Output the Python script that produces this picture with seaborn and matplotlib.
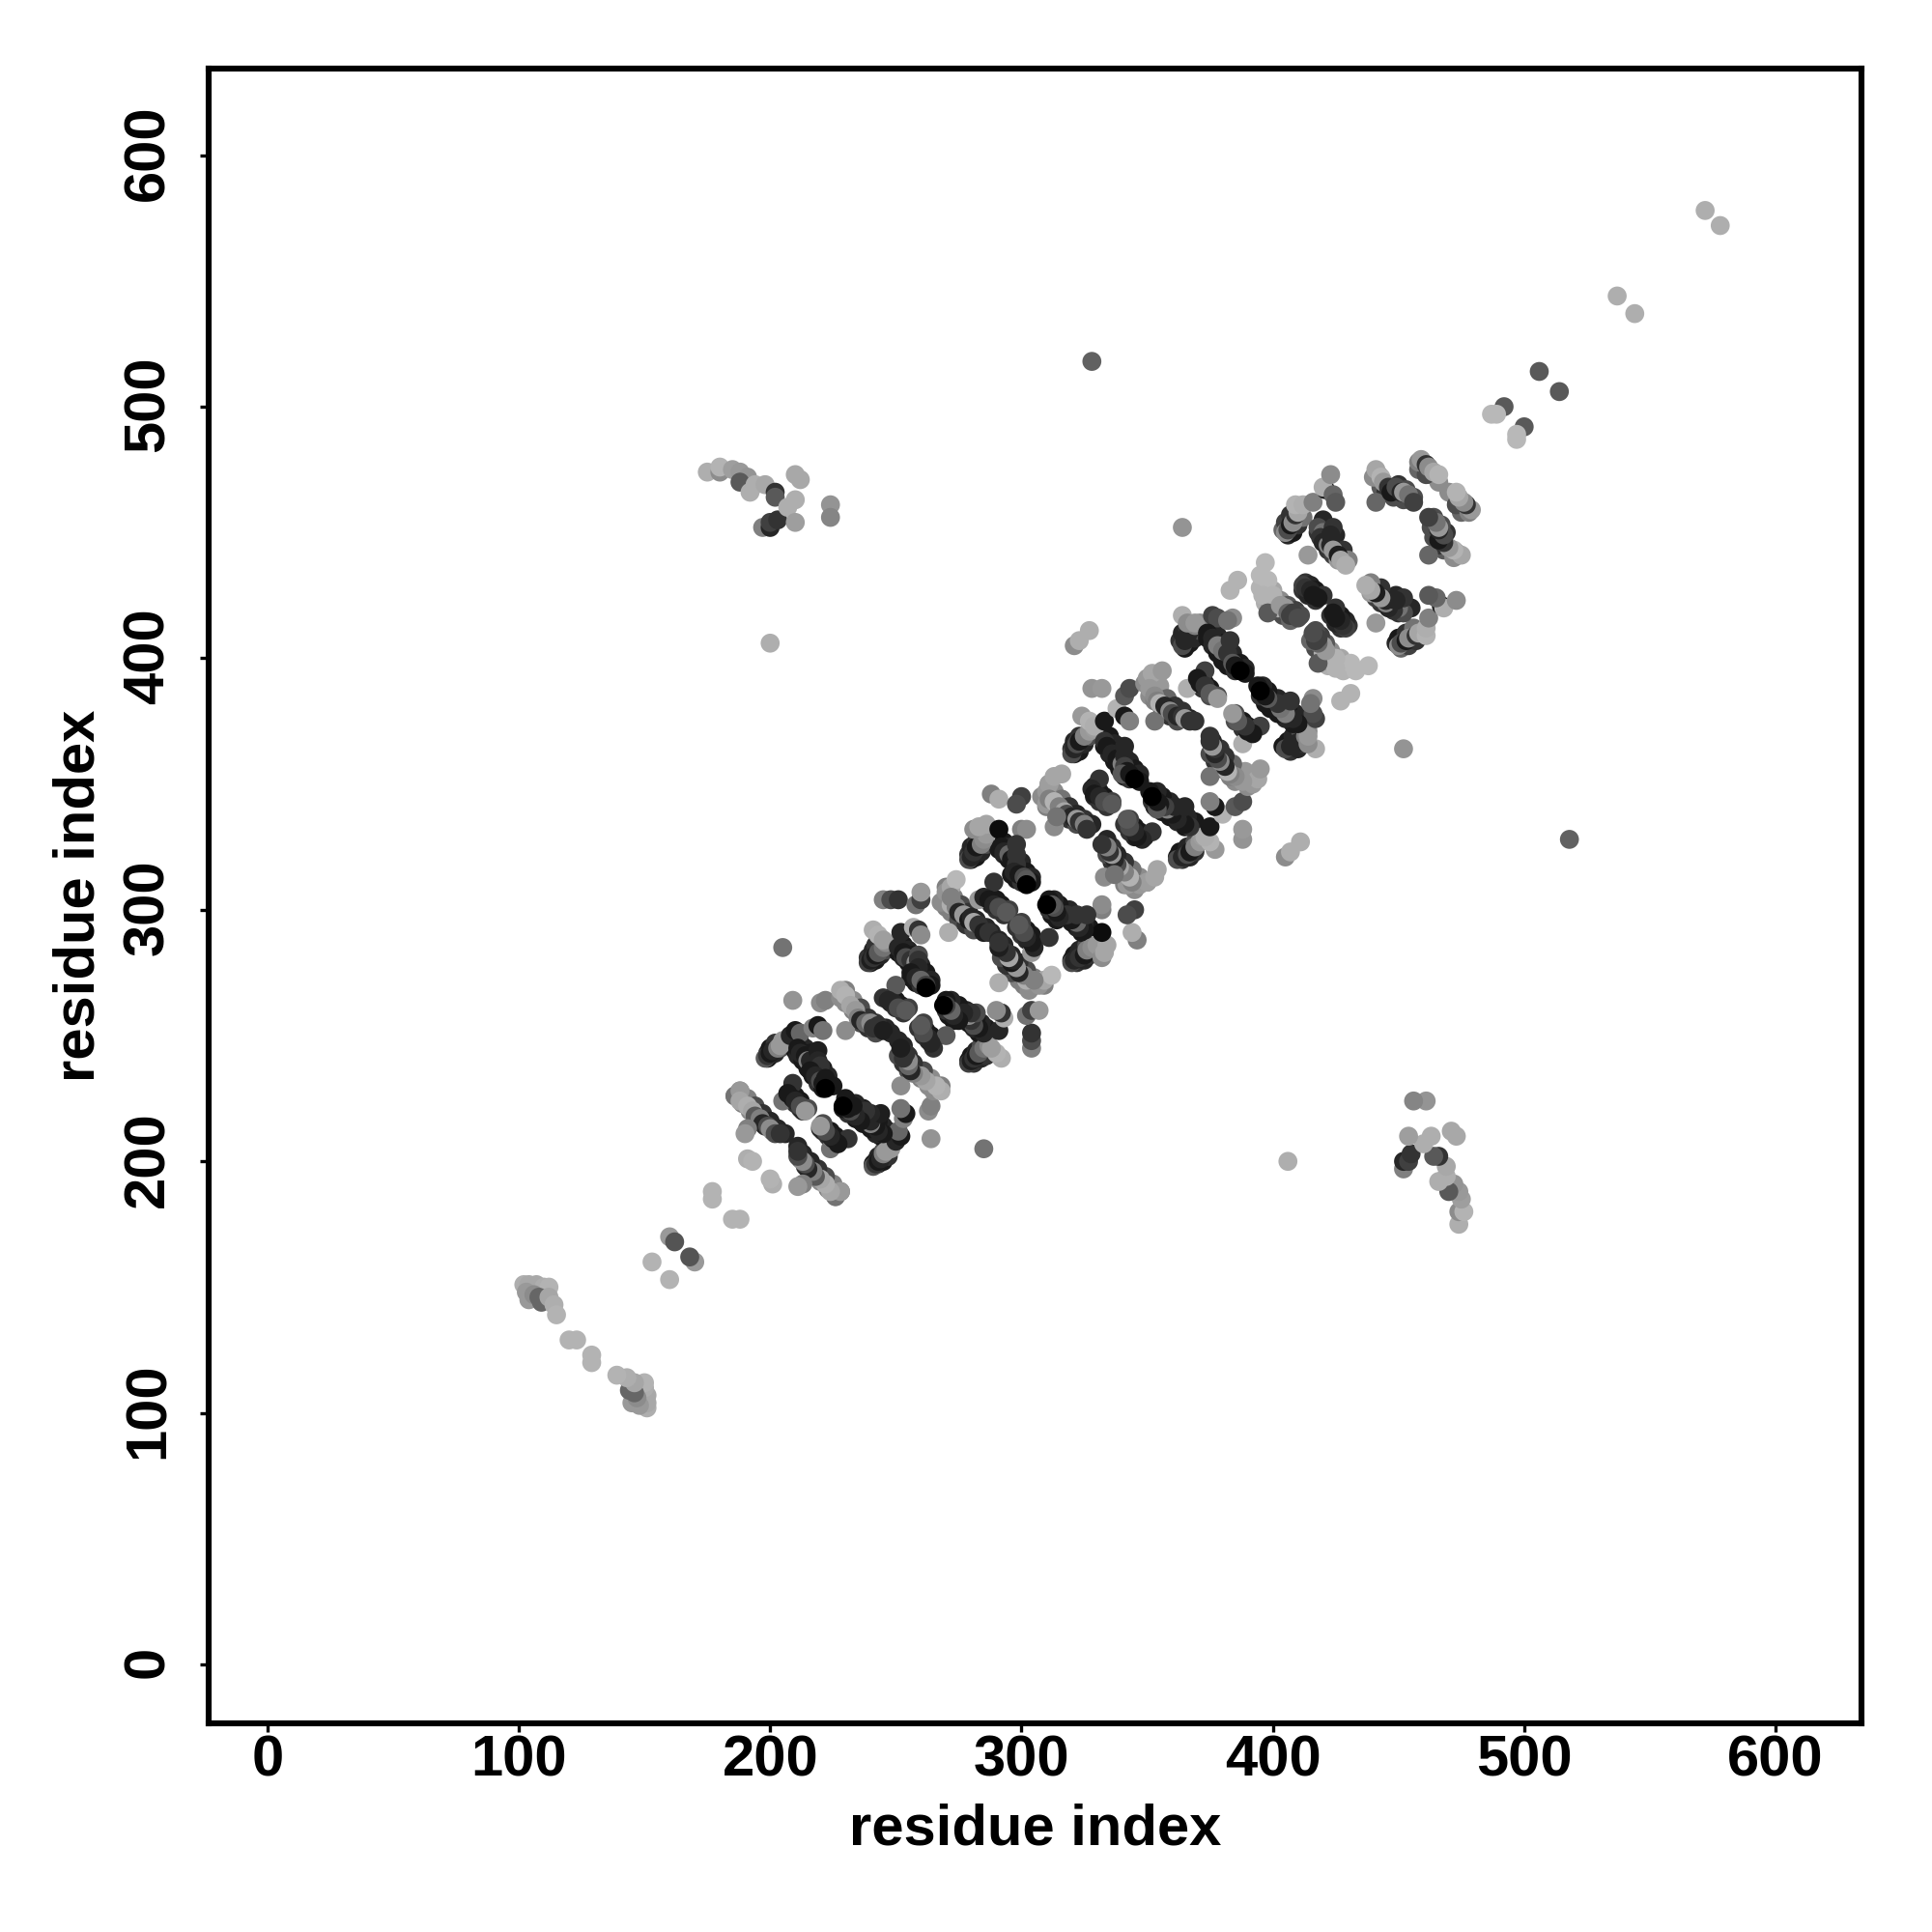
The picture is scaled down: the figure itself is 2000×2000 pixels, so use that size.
import pandas as pd
import matplotlib
matplotlib.use('Agg')
import matplotlib.pyplot as plt
from matplotlib.transforms import ScaledTranslation
import seaborn as sns

# Contact pairs (upper triangle only, the map is symmetric), one stroke per row
# shade: 0 = black, higher = lighter grey
far_i = [572, 537, 506, 492, 487, 489, 328, 200, 364]
far_j = [578, 544, 514, 500, 497, 497, 518, 406, 452]
far_s = [.68, .68, .35, .35, .72, .72, .38, .68, .58]

low_i = [102, 104, 107, 110, 112, 103, 104, 106, 108, 109, 112, 114, 115, 120, 123, 153, 160, 162, 177, 177]
low_j = [151, 151, 151, 150, 150, 148, 145, 147, 146, 144, 146, 143, 139, 129, 129, 160, 170, 168, 185, 188]
low_s = [.68, .66, .66, .68, .70, .60, .60, .55, .40, .40, .65, .68, .70, .70, .70, .70, .60, .33, .70, .70]

cluster_i = [175, 180, 180, 185, 188, 191, 188, 192, 194, 198, 197, 200, 200, 203, 202, 202, 207, 210, 210, 212, 210, 224, 224]
cluster_j = [474, 474, 476, 475, 474, 472, 470, 466, 469, 469, 452, 452, 454, 455, 466, 464, 460, 463, 473, 471, 454, 461, 456]
cluster_s = [.68, .55, .70, .62, .60, .58, .35, .68, .68, .66, .50, .15, .25, .20, .20, .35, .68, .68, .66, .66, .62, .58, .52]

# darker contacts lying under the main strokes, drawn first
under1_i = [188, 191, 194, 197, 200, 203, 206, 186, 189, 192, 195, 198, 201,
            208, 210, 212, 215, 208, 210, 212,
            199, 200, 202, 204, 199, 200, 202,
            212, 214, 216, 218, 221, 223, 225, 210, 211, 213, 215, 217, 219, 221]
under1_j = [228, 225, 222, 219, 216, 213, 211, 226, 223, 220, 217, 214, 212,
            227, 226, 224, 221, 225, 223, 221,
            241, 242, 243, 245, 243, 245, 247,
            247, 245, 243, 241, 237, 234, 230, 244, 242, 240, 237, 234, 231, 229]
under1_s = [.50, .50, .30, .20, .15, .15, .15, .55, .50, .55, .30, .20, .25,
            .10, .10, .10, .30, .15, .20, .20,
            .10, .10, .15, .30, .20, .10, .20,
            .10, .15, .10, .15, .10, .15, .10, .10, .15, .10, .10, .10, .20, .10]

under2_i = [230, 233, 236, 239, 242, 246, 248, 230, 233, 236, 239, 242,
            248, 250, 252, 255, 248, 250, 253,
            240, 242, 244, 246, 239, 241, 242,
            253, 255, 257, 260, 262, 264, 264, 251, 253, 255, 256, 258, 260]
under2_j = [268, 264, 261, 257, 255, 253, 251, 263, 260, 255, 253, 251,
            265, 264, 262, 261, 263, 261, 259,
            279, 280, 282, 284, 281, 284, 286,
            286, 284, 282, 278, 275, 272, 270, 283, 281, 279, 273, 271, 270]
under2_s = [.50, .55, .30, .20, .20, .15, .15, .55, .50, .30, .20, .30,
            .10, .10, .10, .25, .15, .20, .20,
            .10, .10, .15, .30, .20, .15, .20,
            .10, .15, .10, .15, .10, .15, .10, .10, .15, .10, .10, .10, .20]

under3_i = [270, 273, 276, 279, 282, 286, 288, 270, 272, 275, 278, 281,
            288, 290, 292, 295, 288, 290, 293,
            280, 282, 284, 286, 279, 280, 282,
            293, 295, 297, 300, 302, 304, 304, 291, 293, 295, 296, 298, 300]
under3_j = [309, 305, 302, 299, 296, 293, 291, 301, 299, 296, 294, 292,
            305, 304, 302, 300, 302, 300, 298,
            320, 321, 323, 326, 322, 325, 327,
            327, 325, 323, 319, 315, 313, 311, 324, 322, 320, 314, 312, 311]
under3_s = [.50, .50, .30, .20, .15, .15, .15, .50, .50, .30, .20, .30,
            .10, .10, .10, .25, .15, .20, .20,
            .10, .10, .15, .30, .20, .15, .20,
            .10, .15, .10, .15, .10, .15, .10, .10, .15, .10, .10, .10, .20]

under4_i = [311, 313, 316, 319, 322, 325, 328, 310, 313, 316, 319, 322,
            329, 331, 333, 336, 329, 331, 334,
            321, 323, 325, 327, 320, 321, 323,
            335, 337, 339, 343, 345, 347, 347, 333, 335, 337, 339, 341, 343]
under4_j = [350, 347, 344, 341, 338, 336, 334, 341, 340, 338, 336, 334,
            349, 347, 345, 343, 345, 343, 341,
            362, 363, 366, 369, 364, 367, 369,
            369, 366, 363, 359, 356, 354, 351, 365, 362, 359, 356, 353, 352]
under4_s = [.50, .55, .45, .20, .15, .20, .15, .50, .50, .30, .20, .30,
            .10, .10, .10, .25, .15, .20, .20,
            .10, .10, .15, .30, .20, .15, .20,
            .10, .15, .10, .15, .10, .15, .10, .10, .15, .10, .10, .10, .20]

under5_i = [352, 355, 358, 361, 364, 367, 369, 351, 353, 356, 359, 362,
            371, 373, 375, 378, 370, 372, 375,
            365, 367, 369, 371, 363, 364, 366,
            376, 378, 380, 384, 387, 389, 389, 374, 376, 378, 380, 382, 385]
under5_j = [393, 389, 384, 381, 379, 376, 375, 385, 383, 380, 377, 375,
            392, 390, 388, 385, 390, 388, 385,
            404, 406, 408, 411, 407, 410, 412,
            412, 409, 406, 402, 398, 396, 394, 408, 405, 402, 399, 397, 395]
under5_s = [.55, .60, .40, .20, .20, .15, .20, .55, .50, .30, .20, .30,
            .10, .10, .10, .30, .15, .20, .30,
            .10, .10, .15, .30, .20, .15, .20,
            .10, .15, .10, .15, .10, .15, .10, .10, .15, .10, .10, .10, .20]

under6_i = [397, 400, 403, 406, 409, 411, 397, 399, 401, 404, 407,
            413, 415, 417, 420, 412, 414, 417,
            406, 408, 410, 412, 404, 405, 407,
            420, 422, 425, 428, 430, 418, 420, 422, 424, 426,
            442, 443, 445, 448, 452, 450, 453, 456, 460, 463, 466, 458, 461]
under6_j = [431, 427, 423, 421, 419, 417, 422, 421, 419, 417, 415,
            430, 429, 427, 425, 427, 425, 423,
            449, 450, 453, 456, 451, 454, 457,
            455, 452, 449, 443, 439, 450, 447, 443, 441, 439,
            473, 468, 466, 464, 463, 469, 467, 464, 476, 473, 470, 475, 473]
under6_s = [.65, .65, .55, .35, .25, .30, .68, .60, .40, .30, .40,
            .20, .15, .10, .20, .20, .15, .20,
            .15, .10, .20, .45, .40, .25, .20,
            .15, .15, .15, .20, .50, .20, .15, .20, .25, .60,
            .50, .35, .20, .30, .30, .20, .30, .30, .15, .30, .55, .40, .30]

m1_i = [186, 188, 188, 191, 193, 194, 196, 197, 199, 200, 202, 204, 191, 190, 191, 193,
        209, 205, 207, 209, 210, 213, 212, 214,
        198, 199, 200, 201, 203, 204, 205,
        208, 210, 212, 217, 219, 221, 211, 212, 214, 215, 216, 219, 219, 220, 216, 218, 220, 222, 221, 222,
        209, 220, 222, 205]
m1_j = [226, 228, 224, 222, 220, 218, 217, 215, 214, 213, 211, 211, 213, 211, 201, 200,
        231, 224, 227, 225, 224, 220, 222, 220,
        241, 242, 243, 244, 245, 246, 248,
        250, 252, 251, 253, 254, 252, 245, 243, 242, 240, 240, 244, 240, 238, 236, 234, 232, 233, 231, 229,
        264, 263, 264, 285]
m1_s = [.45, .60, .65, .68, .65, .35, .50, .15, .30, .55, .30, .20, .50, .60, .68, .70,
        .20, .45, .10, .10, .15, .15, .30, .60,
        .35, .20, .10, .15, .50, .60, .60,
        .15, .10, .40, .50, .10, .45, .10, .15, .10, .50, .15, .12, .15, .20, .10, .15, .30, .10, .10, .00,
        .58, .55, .50, .45]

m2_i = [228, 228, 230, 230, 232, 234, 235, 236, 238, 240, 241, 243, 245,
        250, 245, 247, 249, 251, 254,
        239, 240, 241, 242, 243, 245, 246, 241, 243, 245,
        252, 257, 259, 260, 251, 253, 254, 256, 258, 259, 259, 259, 256, 258, 260, 262, 262,
        245, 248, 251, 258, 260, 260]
m2_j = [265, 268, 266, 252, 262, 260, 257, 256, 255, 255, 253, 254, 252,
        270, 265, 264, 263, 261, 260,
        279, 280, 281, 282, 283, 285, 287, 292, 290, 288,
        291, 293, 292, 290, 285, 283, 281, 280, 279, 282, 280, 277, 275, 273, 272, 270, 269,
        304, 304, 304, 302, 304, 307]
m2_s = [.55, .68, .70, .55, .65, .60, .50, .15, .40, .55, .20, .20, .12,
        .35, .20, .15, .15, .30, .35,
        .25, .12, .20, .10, .35, .45, .55, .68, .70, .62,
        .15, .68, .20, .55, .15, .10, .30, .20, .55, .30, .20, .15, .10, .15, .40, .25, .00,
        .50, .30, .20, .45, .25, .60]

m3_i = [268, 270, 272, 274, 272, 271, 272, 274, 275, 277, 279, 280, 281, 283, 285, 287,
        289, 283, 285, 287, 289, 291, 294,
        279, 280, 281, 282, 284, 285, 286, 281, 283, 286,
        291, 300, 302, 292, 293, 295, 296, 298, 298, 298, 297, 299, 301, 302, 302,
        288, 291, 300, 298]
m3_j = [303, 307, 309, 312, 302, 291, 305, 301, 299, 298, 296, 297, 295, 294, 291, 291,
        311, 304, 305, 304, 302, 301, 299,
        320, 321, 323, 325, 326, 328, 330, 332, 333, 334,
        332, 332, 332, 325, 323, 322, 320, 326, 322, 318, 315, 314, 313, 312, 310,
        346, 344, 345, 342]
m3_s = [.55, .58, .65, .72, .68, .68, .50, .50, .15, .60, .10, .15, .65, .20, .12, .20,
        .20, .60, .15, .10, .15, .30, .35,
        .30, .15, .20, .10, .50, .55, .60, .55, .65, .65,
        .05, .50, .55, .10, .15, .40, .10, .20, .20, .20, .15, .10, .30, .35, .00,
        .50, .68, .25, .30]

m4_i = [308, 310, 311, 313, 316, 310, 311, 313, 315, 317, 318, 320, 322, 323, 325, 326, 313, 314,
        331, 328, 329, 331, 333, 336,
        320, 321, 322, 323, 325, 327, 329, 324, 327, 329,
        333, 338, 341, 343, 328, 332, 341, 343,
        333, 334, 336, 338, 340, 341, 341, 341, 342, 340, 343, 345]
m4_j = [345, 347, 350, 353, 354, 342, 344, 343, 341, 339, 338, 337, 336, 335, 334, 332, 333, 337,
        352, 348, 346, 345, 343, 342,
        362, 364, 366, 367, 369, 371, 372, 377, 375, 373,
        375, 380, 377, 375, 388, 388, 385, 388,
        367, 365, 362, 360, 358, 365, 361, 357, 355, 354, 354, 352]
m4_s = [.55, .60, .62, .65, .65, .60, .50, .70, .50, .65, .30, .15, .60, .20, .50, .20, .55, .45,
        .20, .15, .10, .15, .30, .35,
        .30, .15, .30, .10, .50, .60, .62, .60, .70, .68,
        .10, .70, .10, .50, .58, .60, .35, .30,
        .20, .10, .15, .10, .50, .15, .15, .25, .10, .35, .10, .00]

m5_i = [321, 323, 327, 349, 350, 352, 356, 351, 353, 354, 353, 355, 357, 359, 360, 362, 364, 365, 367, 366, 373,
        370, 371, 373, 375, 378,
        364, 365, 366, 367, 369, 371, 364, 366, 369,
        376, 378, 384, 382, 374, 376, 378, 380, 383, 382, 384, 385, 387, 383, 386]
m5_j = [405, 407, 411, 390, 392, 394, 395, 388, 385, 383, 375, 382, 381, 379, 378, 377, 377, 376, 375, 388, 395,
        392, 390, 389, 386, 384,
        405, 407, 409, 411, 413, 414, 417, 414, 414,
        417, 416, 416, 415, 410, 408, 405, 403, 407, 402, 398, 397, 395, 427, 431]
m5_s = [.55, .68, .68, .55, .60, .65, .60, .60, .55, .50, .45, .70, .15, .55, .30, .15, .20, .60, .20, .68, .25,
        .10, .10, .20, .35, .60,
        .30, .15, .15, .15, .50, .55, .68, .55, .60,
        .25, .30, .55, .45, .10, .15, .50, .45, .20, .20, .35, .10, .00, .70, .70]

m6_i = [395, 395, 397, 398, 396, 400, 402, 398, 403, 405, 406, 407, 408, 410,
        412, 413, 415, 416, 418, 414,
        405, 406, 407, 408, 409, 410, 409, 412, 416,
        418, 420, 419, 420, 422, 424, 423, 423, 424, 426, 427, 429,
        421, 420, 424, 425, 423]
m6_j = [428, 433, 438, 431, 425, 425, 420, 418, 421, 420, 418, 417, 418, 416,
        429, 428, 427, 425, 424, 441,
        450, 451, 453, 454, 457, 458, 461, 461, 462,
        452, 450, 448, 446, 445, 452, 449, 445, 443, 441, 439, 437,
        467, 468, 465, 462, 473]
m6_s = [.70, .72, .72, .72, .70, .70, .68, .35, .60, .60, .40, .25, .25, .30,
        .25, .20, .15, .10, .10, .60,
        .55, .30, .10, .55, .20, .65, .70, .68, .50,
        .30, .45, .20, .15, .50, .20, .15, .15, .60, .12, .65, .68,
        .10, .68, .40, .35, .55]

m7_i = [440, 441, 443, 441, 444, 446, 447, 449, 451, 452, 454, 456, 458, 459, 461, 462, 464, 466]
m7_j = [472, 475, 472, 462, 470, 468, 466, 468, 466, 466, 465, 462, 478, 479, 477, 476, 474, 473]
m7_s = [.55, .65, .70, .40, .60, .20, .10, .30, .15, .60, .45, .25, .50, .60, .20, .55, .65, .70]

res_i = (under1_i + under2_i + under3_i + under4_i + under5_i + under6_i
         + far_i + low_i + cluster_i + m1_i + m2_i + m3_i + m4_i + m5_i + m6_i + m7_i)
res_j = (under1_j + under2_j + under3_j + under4_j + under5_j + under6_j
         + far_j + low_j + cluster_j + m1_j + m2_j + m3_j + m4_j + m5_j + m6_j + m7_j)
shade = (under1_s + under2_s + under3_s + under4_s + under5_s + under6_s
         + far_s + low_s + cluster_s + m1_s + m2_s + m3_s + m4_s + m5_s + m6_s + m7_s)

# both halves of the contact map
df = pd.DataFrame({
    'x': res_i + res_j,
    'y': res_j + res_i,
    'shade': shade + shade,
})

sns.set_style('white')
plt.rcParams['font.family'] = ['Liberation Sans', 'DejaVu Sans']
plt.rcParams['font.weight'] = 'bold'
plt.rcParams['text.color'] = 'black'
plt.rcParams['axes.labelcolor'] = 'black'
plt.rcParams['xtick.color'] = 'black'
plt.rcParams['ytick.color'] = 'black'

fig = plt.figure(figsize=(10, 10), dpi=200)
ax = fig.add_axes([0.108, 0.108, 0.8555, 0.8565])

sns.scatterplot(data=df, x='x', y='y', hue='shade', palette='gray', hue_norm=(0, 1),
                s=50, linewidth=0, legend=False, ax=ax)

ax.set_xlim(-23.4, 634.2)
ax.set_ylim(-23.4, 634.4)
ax.set_xticks([0, 100, 200, 300, 400, 500, 600])
ax.set_yticks([0, 100, 200, 300, 400, 500, 600])
ax.tick_params(axis='x', length=3.2, width=1.2, labelsize=21.5, pad=1, bottom=True)
ax.tick_params(axis='y', length=3.2, width=1.2, labelsize=21.5, pad=9.3, left=True)
shift_up = ScaledTranslation(0, 2.5 / 200, fig.dpi_scale_trans)
for lab in ax.get_yticklabels():
    lab.set_rotation(90)
    lab.set_va('center')
    lab.set_transform(lab.get_transform() + shift_up)

for sp in ax.spines.values():
    sp.set_linewidth(2.2)
    sp.set_color('black')

ax.set_xlabel('residue index', fontsize=21.5, fontweight='bold', va='center')
ax.set_ylabel('residue index', fontsize=21.5, fontweight='bold', va='center')
ax.xaxis.set_label_coords(0.5, -0.064)
ax.yaxis.set_label_coords(-0.0785, 0.5)

fig.savefig('out.png', dpi=200)
